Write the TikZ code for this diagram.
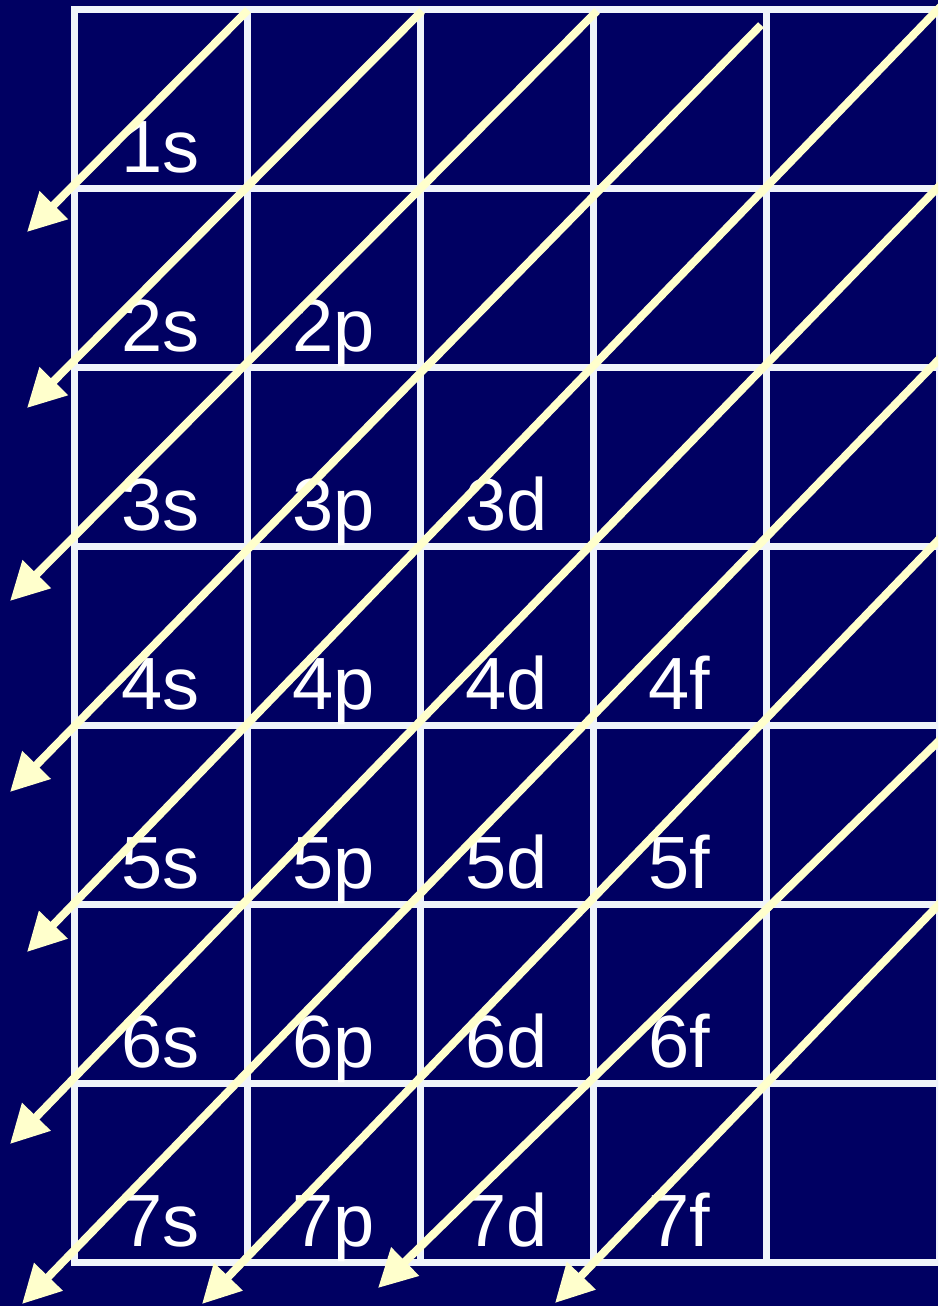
\documentclass[tikz,border=0pt]{standalone}
\usepackage{fontspec}
\setmainfont{Liberation Sans}
\usetikzlibrary{arrows.meta}
\definecolor{chartnavy}{HTML}{000062}
\definecolor{gridwhite}{HTML}{F0F4FA}
\definecolor{arrowcream}{HTML}{FFFFCC}

\begin{document}
\begin{tikzpicture}[x=0.5pt, y=-0.5pt,
  gridline/.style={draw=gridwhite, line width=3.5pt, line cap=rect},
  orbital/.style={text=white, font=\fontsize{37}{37}\selectfont, anchor=base, inner sep=0pt},
  fillarrow/.style={draw=arrowcream, line width=4pt, -{Triangle[length=19pt, width=19pt]}}]
\useasboundingbox (0,0) rectangle (938,1306);
\fill[chartnavy] (0,0) rectangle (938,1306);
\clip (0,0) rectangle (938,1306);
% grid of cells
\foreach \c in {0,...,5} \draw[gridline] ({74+173*\c},9) -- ({74+173*\c},1262);
\foreach \r in {0,...,7} \draw[gridline] (74,{9+179*\r}) -- (939,{9+179*\r});
% orbital labels
\foreach \l/\c/\first in {s/0/1, p/1/2, d/2/3, f/3/4}
  \foreach \n in {\first,...,7}
    \node[orbital] (o\n\l) at ({160.5+173*\c},{9+179*\n-16}) {\n\l};
% filling order arrows
\foreach \i/\sx/\sy/\tx/\ty in {1/248/10/27/232, 2/422/11/27/408, 3/597/11/10/601,
    4/761/25/10/792, 5/945/2/27/952, 6/948/177/10/1144, 7/948/350/22/1304,
    8/948/530/202/1304, 9/948/732/378/1288, 10/948/895/555/1303} {
  \coordinate (s\i) at (\sx,\sy);
  \coordinate (t\i) at (\tx,\ty);
  \draw[fillarrow] (s\i) -- (t\i);
}
\end{tikzpicture}
\end{document}
